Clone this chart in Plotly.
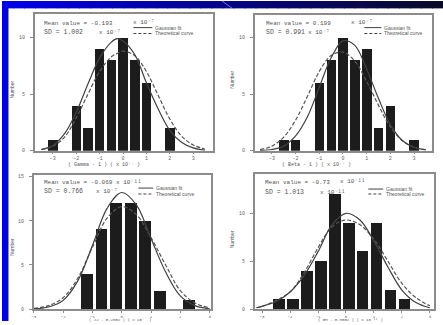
import plotly.graph_objects as go

W, H = 443, 325

# ---------------- data ----------------
# histogram bins (bin centre, count) for each panel
p1_x = [-3, -2, -1.5, -1, -0.5, 0, 0.5, 1, 2]
p1_n = [1, 4, 2, 9, 8, 10, 8, 6, 2]
p2_x = [-2.5, -2, -1, -0.5, 0, 0.5, 1, 1.5, 2, 3]
p2_n = [1, 1, 6, 8, 10, 8, 9, 2, 4, 1]
p3_x = [-1.2, -0.7, -0.2, 0.3, 0.8, 1.3, 2.3]
p3_n = [4, 9, 12, 12, 10, 2, 1]
p4_x = [-2.4, -1.9, -1.4, -0.9, -0.4, 0.1, 0.6, 1.1, 1.6, 2.1]
p4_n = [1, 1, 4, 5, 12, 9, 6, 9, 2, 1]

# curves
c1_x = [-3.5, -3, -2.5, -2, -1.5, -1, -0.5, -0.25, 0, 0.5, 1, 1.5, 2, 2.5, 3, 3.5]
c1_fit = [0.1, 0.45, 1.5, 3.4, 5.9, 8.2, 9.6, 9.9, 9.7, 8.5, 6.0, 3.7, 1.8, 0.75, 0.25, 0.05]
c1_th = [0.1, 0.4, 1.2, 2.9, 5.0, 7.0, 8.3, 8.6, 8.8, 8.4, 7.0, 4.9, 2.8, 1.3, 0.5, 0.15]

c2_x = [-3.5, -3, -2.5, -2, -1.5, -1, -0.5, 0, 0.5, 1, 1.5, 2, 2.5, 3, 3.5]
c2_fit = [0.02, 0.1, 0.4, 1.3, 3.0, 5.6, 8.2, 9.7, 9.3, 7.2, 4.6, 2.3, 0.9, 0.3, 0.07]
c2_th = [0.1, 0.4, 1.2, 2.7, 4.8, 7.0, 8.4, 8.7, 7.9, 6.1, 4.0, 2.1, 0.9, 0.3, 0.08]

c3_x = [-3, -2.5, -2, -1.5, -1, -0.5, 0, 0.5, 1, 1.5, 2, 2.5, 3]
c3_fit = [0.05, 0.25, 1.0, 3.2, 7.2, 11.4, 13.2, 11.8, 8.0, 4.2, 1.5, 0.4, 0.05]
c3_th = [0.1, 0.4, 1.3, 3.5, 7.0, 10.3, 11.6, 10.7, 8.1, 5.0, 2.1, 0.7, 0.15]

c4_x = [-3.2, -3, -2.5, -2, -1.5, -1, -0.5, 0, 0.5, 1, 1.5, 2, 2.5, 3]
c4_fit = [0.15, 0.3, 0.8, 1.8, 3.5, 6.0, 8.8, 10.0, 9.3, 7.1, 4.4, 2.0, 0.7, 0.15]
c4_th = [0.15, 0.3, 0.9, 1.8, 3.8, 6.4, 8.6, 9.3, 8.8, 7.3, 5.0, 2.7, 1.2, 0.35]

x_ticks = [-3, -2, -1, 0, 1, 2, 3]
y_ticks_a = [0, 5, 10]
y_ticks_b = [0, 5, 10, 15]

mean_lines = ["Mean value = -0.193", "Mean value = 0.199",
              "Mean value = -0.069 x 10⁻¹¹", "Mean value = -0.73"]
mean_units = ["x 10⁻⁷", "x 10⁻⁷", "", "x 10⁻¹¹"]
sd_lines = ["SD = 1.002", "SD = 0.991", "SD = 0.766", "SD = 1.013"]
sd_units = ["x 10⁻⁷", "x 10⁻⁷", "x 10⁻⁷", "x 10⁻¹¹"]
x_titles = ["( Gamma - 1 ) ( x 10⁻⁷ )", "( Beta - 1 ) ( x 10⁻⁷ )",
            "( J2 - 0.2002 ) ( x 10⁻⁷ )", "( GM - 0.3002 ) ( x 10⁻¹¹ )"]
legend_fit = "Gaussian fit"
legend_th = "Theoretical curve"
y_title = "Number"

# ---------------- layout helpers ----------------
def px(x):
    return x / W

def py(y):
    return 1 - y / H

# panel frames in pixels: (left, right, top, bottom)
frames = [(33, 212, 13, 152), (254, 432, 14, 152), (32, 210, 177, 313), (254, 434, 176, 313)]
xranges = [[-3.77, 3.85], [-3.72, 3.76], [-3.0, 3.05], [-3.26, 3.15]]
yranges = [[0, 12.1], [0, 12.0], [0, 15.15], [0, 14.07]]
yticks = [y_ticks_a, y_ticks_a, y_ticks_b, y_ticks_a]
xtick_size = [5, 5, 4, 4]

bars = [(p1_x, p1_n), (p2_x, p2_n), (p3_x, p3_n), (p4_x, p4_n)]
curves = [(c1_x, c1_fit, c1_th), (c2_x, c2_fit, c2_th), (c3_x, c3_fit, c3_th), (c4_x, c4_fit, c4_th)]

fig = go.Figure()
MONO = "Liberation Mono, DejaVu Sans Mono, monospace"
SANS = "Liberation Sans, Arial, sans-serif"
TXT = "#555555"

for i in range(4):
    sfx = "" if i == 0 else str(i + 1)
    xa, ya = "x" + sfx, "y" + sfx
    bx, bn = bars[i]
    fig.add_trace(go.Bar(x=bx, y=bn, width=0.4, xaxis=xa, yaxis=ya,
                         marker=dict(color="#1c1c1c", line=dict(width=0)),
                         showlegend=False))
    cx, cf, ct = curves[i]
    fig.add_trace(go.Scatter(x=cx, y=ct, mode="lines", xaxis=xa, yaxis=ya,
                             line=dict(color="#555555", width=1.2, dash="4px,2px", shape="spline"),
                             showlegend=False))
    fig.add_trace(go.Scatter(x=cx, y=cf, mode="lines", xaxis=xa, yaxis=ya,
                             line=dict(color="#404040", width=1.2, shape="spline"),
                             showlegend=False))
    l, r, t, b = frames[i]
    axis_common = dict(showline=True, mirror=True, linecolor="#8c8c8c", linewidth=1.5,
                       ticks="outside", tickcolor="#8c8c8c", tickwidth=1,
                       showgrid=False, zeroline=False)
    fig.layout["xaxis" + sfx] = dict(domain=[px(l), px(r)], range=xranges[i], ticklen=2,
                                     tickfont=dict(size=xtick_size[i], color="#666666", family=MONO),
                                     anchor=ya, tickvals=x_ticks, **axis_common)
    fig.layout["yaxis" + sfx] = dict(domain=[py(b), py(t)], range=yranges[i], ticklen=3,
                                     ticklabelstandoff=4,
                                     tickfont=dict(size=5, color="#666666", family=MONO),
                                     anchor=xa, tickvals=yticks[i], **axis_common)

annotations = []
shapes = []

def note(text, x, y, size, xanchor="left", family=MONO, angle=0):
    annotations.append(dict(text=text, x=px(x), y=py(y), xref="paper", yref="paper",
                            xanchor=xanchor, yanchor="middle", showarrow=False,
                            textangle=angle, font=dict(size=size, color=TXT, family=family)))

def hline(x0, x1, y, dash):
    shapes.append(dict(type="line", xref="paper", yref="paper", x0=px(x0), x1=px(x1),
                       y0=py(y), y1=py(y), line=dict(color="#444444", width=1, dash=dash)))

# per-panel text positions (pixels)
txt_pos = [
    dict(mx=40, my=23, mux=130, sy=32, sux=95, lx0=132, lx1=151, ly1=27, ly2=33, tx=102, ty=167, ts=5, yx=10, yy=90),
    dict(mx=263, my=23, mux=349, sy=32, sux=305, lx0=364, lx1=381, ly1=27, ly2=33, tx=316, ty=167, ts=5, yx=231, yy=80),
    dict(mx=40, my=184, mux=0, sy=193, sux=92, lx0=137, lx1=152, ly1=190, ly2=196, tx=119, ty=323, ts=4, yx=10, yy=250),
    dict(mx=262, my=184, mux=338, sy=194, sux=317, lx0=368, lx1=383, ly1=191, ly2=196, tx=350, ty=323, ts=4, yx=231, yy=242),
]

for i, p in enumerate(txt_pos):
    note(mean_lines[i], p["mx"], p["my"], 6)
    if mean_units[i]:
        note(mean_units[i], p["mux"], p["my"] - 1, 6)
    note(sd_lines[i], p["mx"], p["sy"], 6.5)
    note(sd_units[i], p["sux"], p["sy"], 6)
    hline(p["lx0"], p["lx1"], p["ly1"], "solid")
    hline(p["lx0"], p["lx1"], p["ly2"], "3px,2px")
    note(legend_fit, p["lx1"] + 1, p["ly1"], 5, family=SANS)
    note(legend_th, p["lx1"] + 1, p["ly2"], 5, family=SANS)
    note(x_titles[i], p["tx"], p["ty"], p["ts"], xanchor="center")
    note(y_title, p["yx"], p["yy"], 5, xanchor="center", family=SANS, angle=-90)

# blue slide background bands
steps = 40
for k in range(steps):
    f = k / (steps - 1)
    r_ = int(10 * f)
    b_ = int(235 - 195 * f)
    shapes.append(dict(type="rect", xref="paper", yref="paper", layer="above",
                       x0=k / steps, x1=(k + 1) / steps + 0.002, y0=py(7.5), y1=1,
                       fillcolor=f"rgb({r_},{r_},{b_})", line=dict(width=0)))
shapes.append(dict(type="rect", xref="paper", yref="paper", layer="above",
                   x0=0, x1=px(6.5), y0=0, y1=1, fillcolor="rgb(0,0,232)", line=dict(width=0)))
shapes.append(dict(type="line", xref="paper", yref="paper", layer="above",
                   x0=px(221), y0=1, x1=px(232), y1=py(8),
                   line=dict(color="rgba(140,150,255,0.8)", width=1)))

fig.update_layout(width=W, height=H, margin=dict(l=0, r=0, t=0, b=0),
                  paper_bgcolor="white", plot_bgcolor="white",
                  annotations=annotations, shapes=shapes, bargap=0)

fig.write_html("out.html")
